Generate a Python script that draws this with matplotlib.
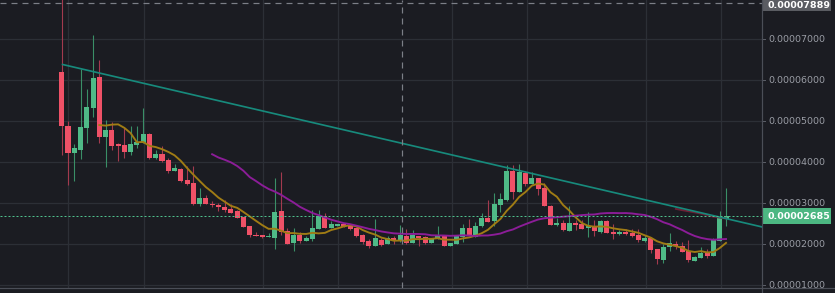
import numpy as np
import pandas as pd
import matplotlib
matplotlib.use("Agg")
import matplotlib.pyplot as plt
from matplotlib.patches import Rectangle
from matplotlib.lines import Line2D

plt.rcParams['lines.scale_dashes'] = False
plt.rcParams['font.family'] = ['DejaVu Sans']

# ---- data (prices in satoshi, 1 sat = 0.00000001) ----
opens = [6203, 4887, 4236, 4309, 4846, 5333, 6081, 4626, 4789, 4448,
         4424, 4261, 4431, 4480, 4692, 4114, 4205, 4058, 3790, 3839,
         3571, 3498, 2986, 3132, 2986, 2962, 2913, 2864, 2816, 2669,
         2450, 2231, 2231, 2182, 2158, 2816, 2328, 2036, 2231, 2084,
         2133, 2377, 2694, 2401, 2450, 2499, 2450, 2401, 2231, 2084,
         1963, 2109, 2011, 2158, 2109, 2207, 2036, 2207, 2182, 2036,
         2133, 2231, 1963, 2011, 2182, 2401, 2182, 2450, 2645, 2572,
         2962, 3084, 3790, 3278, 3741, 3474, 3620, 3376, 2937, 2474,
         2523, 2328, 2523, 2499, 2401, 2450, 2304, 2572, 2290, 2255,
         2304, 2279, 2231, 2084, 2158, 1889, 1621, 1938, 2011, 1963,
         1841, 1597, 1670, 1792, 1719, 2084, 2621]
highs = [8050, 5009, 4448, 6269, 5789, 7105, 6495, 5033, 4984, 4480,
         4846, 4887, 4887, 5326, 4716, 4302, 4407, 4107, 3961, 3860,
         3912, 3912, 3376, 3205, 3059, 3010, 3084, 2986, 2830, 2680,
         2460, 2304, 2240, 2279, 3620, 3766, 2401, 2401, 2304, 2207,
         2840, 2840, 2767, 2572, 2510, 2510, 2460, 2426, 2255, 2133,
         2621, 2158, 2207, 2207, 2474, 2377, 2352, 2215, 2207, 2165,
         2450, 2240, 2045, 2231, 2499, 2621, 2548, 2767, 3084, 3254,
         3254, 3937, 3937, 3961, 3790, 3766, 3630, 3498, 2950, 2645,
         2596, 2937, 2596, 2596, 2791, 2596, 2590, 2590, 2499, 2352,
         2377, 2377, 2377, 2231, 2170, 1895, 2011, 2279, 2084, 2060,
         2109, 1719, 1938, 1889, 2158, 2816, 3376]
lows = [4180, 3449, 3554, 4090, 4480, 5114, 4480, 3895, 4302, 4041,
        4114, 4180, 4358, 4465, 4090, 4090, 4017, 3749, 3780, 3530,
        3460, 2962, 2937, 2975, 2913, 2816, 2791, 2760, 2635, 2415,
        2182, 2200, 2158, 2175, 1889, 2231, 2000, 1841, 2036, 2075,
        2084, 2370, 2395, 2395, 2440, 2415, 2352, 2182, 2011, 1914,
        1955, 1970, 2000, 2011, 2060, 2011, 2030, 1963, 2011, 2030,
        2125, 1955, 1955, 2000, 2060, 2200, 2175, 2430, 2540, 2450,
        2791, 3070, 3108, 3270, 3425, 3465, 3205, 2930, 2470, 2450,
        2328, 2320, 2352, 2370, 2182, 2207, 2290, 2270, 2140, 2231,
        2231, 2182, 2060, 2060, 1792, 1524, 1548, 1841, 1889, 1810,
        1573, 1590, 1665, 1670, 1715, 2080, 2450]
closes = [4894, 4236, 4351, 4863, 5350, 6057, 4626, 4789, 4407, 4400,
          4261, 4448, 4497, 4692, 4114, 4205, 4041, 3798, 3863, 3547,
          3474, 2986, 3132, 2986, 2962, 2913, 2840, 2767, 2645, 2426,
          2231, 2207, 2182, 2207, 2791, 2311, 2011, 2231, 2084, 2158,
          2401, 2694, 2401, 2499, 2499, 2426, 2377, 2207, 2060, 1963,
          2158, 1987, 2158, 2109, 2231, 2036, 2231, 2158, 2036, 2158,
          2231, 1963, 2036, 2207, 2401, 2207, 2450, 2645, 2548, 2986,
          3108, 3790, 3278, 3766, 3474, 3620, 3352, 2937, 2474, 2523,
          2352, 2523, 2474, 2377, 2450, 2335, 2572, 2279, 2265, 2304,
          2255, 2207, 2109, 2158, 1865, 1646, 1938, 2036, 1963, 1816,
          1621, 1695, 1792, 1719, 2109, 2645, 2685]

ma_windows = [7, 25, 99]
ma_colors = ['#a07c14', '#8c1d98', '#6e2036']
trend_idx = [0, 112]
trend_price = [6391, 2418]
last_price = 2685
cross_price = 7889
cross_idx = 54.3
grid_idx = [1.0, 13.1, 32.1, 44.1, 62.3, 74.3, 93.2, 105.2]
yticks = [1000, 2000, 3000, 4000, 5000, 6000, 7000]
SAT = 1e-8

# ---- style ----
BG = '#1b1c22'
GRID = '#2c2f36'
UP = '#4fba87'
DOWN = '#ef5167'
UP_W = '#3a8f67'
DOWN_W = '#a33a4e'
PX = 0.72  # one pixel in points

W, H = 835, 293
fig = plt.figure(figsize=(W / 100, H / 100), dpi=100)
fig.patch.set_facecolor(BG)

right = 762
bottom = 5
ax = fig.add_axes([0, bottom / H, right / W, (H - bottom) / H])
ax.set_facecolor(BG)
ax.set_xlim(-9.85, 111.74)
ax.set_ylim(939, 7958)
for s in ax.spines.values():
    s.set_visible(False)
ax.set_xticks([])
ax.set_yticks([])

# grid
for yv in yticks:
    ax.axhline(yv, color=GRID, lw=1.3 * PX, zorder=0)
for xv in grid_idx:
    ax.axvline(xv, color=GRID, lw=1.3 * PX, zorder=0)

# candles
n = len(closes)
idx = np.arange(n)
o = np.array(opens, float)
c = np.array(closes, float)
h = np.array(highs, float)
l = np.array(lows, float)
up = c >= o
body_lo = np.minimum(o, c)
body_h = np.maximum(np.abs(c - o), 30)
ax.vlines(idx[up], l[up], h[up], color=UP_W, lw=1.1 * PX, zorder=2)
ax.vlines(idx[~up], l[~up], h[~up], color=DOWN_W, lw=1.1 * PX, zorder=2)
ax.bar(idx[up], body_h[up], bottom=body_lo[up], width=0.8, color=UP, lw=0, zorder=3)
ax.bar(idx[~up], body_h[~up], bottom=body_lo[~up], width=0.8, color=DOWN, lw=0, zorder=3)

# moving averages
cs = pd.Series(closes, dtype=float)
for w, col in zip(ma_windows, ma_colors):
    ma = cs.rolling(w).mean()
    ax.plot(idx, ma.values, color=col, lw=1.9 * PX, zorder=4)

# trend line
ax.plot(trend_idx, trend_price, color='#178a7c', lw=1.7 * PX, zorder=5, solid_capstyle='butt')

# last price dotted line
ax.axhline(last_price, color='#4fc08d', lw=1.0 * PX, ls=(0, (2 * PX, 2 * PX)), zorder=6)

# crosshair
ax.axhline(cross_price, color='#7c7f87', lw=1.2 * PX, ls=(0, (6 * PX, 5 * PX)), zorder=6)
ax.axvline(cross_idx, color='#7c7f87', lw=1.2 * PX, ls=(0, (6 * PX, 5 * PX)), zorder=6)

# ---- right price axis ----
ax2 = fig.add_axes([right / W, bottom / H, (W - right) / W, (H - bottom) / H])
ax2.set_facecolor(BG)
ax2.set_xlim(0, W - right)
ax2.set_ylim(ax.get_ylim())
for s in ax2.spines.values():
    s.set_visible(False)
ax2.set_xticks([])
ax2.set_yticks([])
for yv in yticks:
    ax2.plot([0, 3], [yv, yv], color='#5a5d66', lw=PX)
    ax2.text(6, yv, f"{yv * SAT:.8f}", color='#9a9da5', fontsize=6.8,
             va='center', ha='left')

ylo, yhi = ax.get_ylim()
spp = (yhi - ylo) / (H - bottom)  # sats per pixel
bh = 16 * spp
# crosshair price label (top, partly clipped like the reference)
ax2.add_patch(Rectangle((0, cross_price - bh / 2), 69, bh, facecolor='#5a5c62',
                        edgecolor='none', zorder=5))
ax2.text(6, yhi - 0.8 * spp, f"{cross_price * SAT:.8f}", color='white', fontsize=6.8,
         fontweight='bold', va='top', ha='left', zorder=6)
# last price label
ax2.add_patch(Rectangle((0, last_price - bh / 2), 69, bh, facecolor='#4cb782',
                        edgecolor='none', zorder=5))
ax2.text(6, last_price, f"{last_price * SAT:.8f}", color='white', fontsize=6.8,
         fontweight='bold', va='center', ha='left', zorder=6)

# axis border lines
fig.add_artist(Line2D([right / W, right / W], [0, 1], transform=fig.transFigure,
                      color='#4b4e57', lw=1.2 * PX))
fig.add_artist(Line2D([0, 1], [bottom / H + 0.5 / H, bottom / H + 0.5 / H], transform=fig.transFigure,
                      color='#4b4e57', lw=1.2 * PX))

fig.savefig('out.png', dpi=100, facecolor=BG)
